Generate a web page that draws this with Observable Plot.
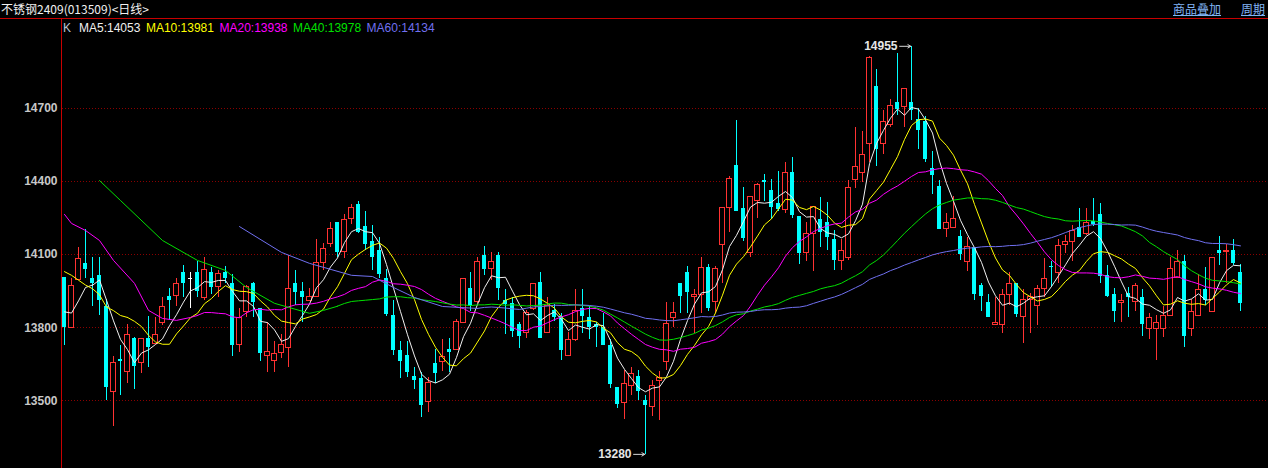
<!DOCTYPE html>
<html><head><meta charset="utf-8">
<script src="https://cdn.jsdelivr.net/npm/d3@7"></script>
<script src="https://cdn.jsdelivr.net/npm/@observablehq/plot@0.6"></script>
<style>
html,body{margin:0;padding:0;background:#000;width:1268px;height:468px;overflow:hidden;}
#wrap{position:relative;width:1268px;height:468px;background:#000;}
#chart{position:absolute;left:0;top:0;}
.hline{position:absolute;left:0;top:18px;width:1268px;height:1px;background:#c80000;}
.vline{position:absolute;left:61px;top:18px;width:1px;height:450px;background:#c80000;}
#title{position:absolute;left:1px;top:1px;font-size:12px;font-family:"Noto Sans CJK SC",sans-serif;color:#f0f0f0;line-height:16px;white-space:nowrap;}
.link{position:absolute;top:1px;font-size:12px;font-family:"Noto Sans CJK SC",sans-serif;color:#80b4f4;line-height:16px;text-decoration:underline;white-space:nowrap;}
#legend{position:absolute;left:63px;top:21px;font-size:12px;font-family:"Liberation Sans",Arial,sans-serif;line-height:14px;white-space:nowrap;}
#legend span{margin-right:5.5px;}
</style>
</head><body>
<div id="wrap">
  <div id="chart"></div>
  <div class="hline"></div>
  <div class="vline"></div>
  <div id="title"></div>
  <div id="links"></div>
  <div id="legend"></div>
</div>
<script>
const titleText = "不锈钢2409(013509)<日线>";
const linkLabels = ["商品叠加", "周期"];
const yTicks = [13500, 13800, 14100, 14400, 14700];
const maNames = ["MA5", "MA10", "MA20", "MA40", "MA60"];
const maLegendValues = [14053, 13981, 13938, 13978, 14134];
const maColors = ["#f0f0f0", "#ffff00", "#ff00ff", "#00e000", "#7070f0"];
const maPeriods = [5, 10, 20, 40, 60];

const open = [14005,13800,13995,14065,14000,14015,13885,13535,13670,13620,13755,13655,13755,13735,13820,13930,13930,14025,14000,14025,
13920,14025,13965,14025,13980,13730,13865,13980,13880,13685,13665,13695,13715,13980,13950,13910,13925,14065,14145,14230,
14110,14245,14305,14215,14155,14115,14000,13850,13705,13685,13600,13590,13495,13655,13660,13710,13710,13820,13960,13905,
14095,14040,14095,13910,13900,13815,13780,13875,13985,13780,13870,13845,13685,13750,13880,13840,13815,13800,13725,13555,
13490,13560,13600,13500,13475,13580,13660,13840,13980,14025,13925,13935,14045,13905,14140,14290,14465,14290,14105,14320,
14405,14365,14310,14285,14435,14255,14105,14185,14245,14230,14160,14075,14085,14405,14435,14555,14790,14555,14630,14725,
14705,14725,14655,14645,14455,14380,14205,14210,14175,14070,14130,13975,13905,13810,13810,13935,13980,13845,13915,13890,
13960,14050,14025,14140,14150,14210,14185,14235,14265,14015,13935,13900,13940,13905,13925,13795,13795,13795,13850,14005,
14070,13795,13850,13955,13865,14115,14110,14115,14025];
const high = [14005,14000,14130,14205,14090,14090,13915,13680,13725,13815,13760,13755,13845,13840,13925,13960,14000,14055,14025,14070,
14090,14045,14035,14050,14020,13880,13975,13985,13880,13820,13745,13770,14095,14035,13985,13960,14160,14145,14230,14230,
14265,14305,14320,14275,14220,14170,14040,13910,13745,13745,13635,13615,13595,13710,13750,13755,13835,14000,14025,14090,
14135,14110,14110,13955,13925,13820,13870,13980,14025,13925,13895,13860,13780,13955,13955,13885,13820,13860,13750,13555,
13625,13635,13625,13520,13585,13620,13905,13905,13980,14050,13955,14090,14060,14050,14295,14420,14650,14375,14335,14390,
14430,14410,14440,14480,14500,14255,14230,14295,14335,14315,14200,14160,14405,14620,14605,14915,14860,14690,14735,14925,
14780,14955,14700,14665,14525,14405,14270,14340,14200,14170,14130,13980,13935,13925,13955,14025,13980,13955,13940,13975,
14085,14070,14160,14180,14220,14290,14290,14330,14310,14055,13960,13935,13965,13980,13955,13860,13850,13885,14090,14115,
14095,13915,14020,14045,14085,14175,14140,14160,14060];
const low = [13725,13800,13995,14000,13885,13850,13500,13395,13520,13570,13545,13610,13635,13735,13810,13830,13885,13925,13880,13925,
13910,13935,13925,13980,13680,13700,13840,13840,13660,13615,13615,13675,13635,13890,13820,13910,13925,14035,14130,14090,
14085,14225,14185,14115,14035,14000,13845,13685,13590,13595,13545,13430,13450,13570,13620,13615,13710,13820,13865,13900,
14015,13995,13910,13770,13760,13715,13755,13870,13755,13775,13825,13665,13680,13745,13775,13750,13720,13725,13550,13470,
13425,13520,13500,13280,13435,13420,13625,13800,13860,13860,13775,13860,13865,13860,13980,14190,14275,14155,14090,14250,
14320,14245,14275,14270,14250,14060,14070,14030,14130,14115,14035,14035,14075,14370,14395,14480,14460,14510,14620,14670,
14620,14650,14530,14480,14345,14205,14170,14210,14075,14030,13910,13865,13840,13810,13775,13890,13840,13735,13775,13810,
13925,13965,13980,14105,14070,14170,14180,14215,13980,13925,13820,13820,13840,13865,13765,13750,13665,13760,13850,14000,
13720,13765,13850,13890,13865,14055,13980,14055,13865];
const close = [13800,13970,14080,14040,13980,13910,13555,13655,13660,13770,13640,13755,13720,13770,13885,13910,13980,13980,14000,13950,
14035,13965,14020,14000,13725,13840,13965,13905,13695,13700,13690,13730,13960,13945,13925,13925,14065,14125,14205,14110,
14240,14290,14190,14140,14090,14020,13855,13705,13660,13615,13585,13480,13575,13610,13680,13700,13825,14000,13885,14070,
14040,14070,13960,13895,13785,13765,13860,13980,13755,13890,13840,13705,13750,13870,13845,13800,13800,13725,13565,13485,
13570,13610,13540,13480,13560,13595,13815,13860,13930,13945,13935,14045,13880,14040,14290,14410,14275,14165,14335,14385,
14395,14295,14285,14435,14260,14105,14185,14295,14190,14170,14075,14115,14375,14460,14510,14905,14530,14645,14710,14695,
14780,14690,14610,14490,14425,14205,14230,14245,14100,14130,13935,13930,13840,13820,13935,13980,13855,13915,13925,13960,
14000,14045,14135,14150,14195,14170,14230,14225,14010,13930,13865,13910,13925,13970,13815,13840,13820,13850,14040,14070,
13765,13865,13955,13910,14085,14105,14115,14065,13900];

// Lead-in parts of the moving averages (history before the first visible bar)
const ma5HeadIdx = [0, 1, 2, 3, 4];
const ma5HeadVal = [13865, 13860, 13910, 13965, 13975];
const ma10HeadIdx = [0, 1, 2, 3, 4, 5, 6, 7, 8, 9];
const ma10HeadVal = [14030, 14015, 13995, 13975, 13960, 13935, 13885, 13870, 13850, 13842];
const ma20HeadIdx = [0, 1, 3, 5, 7, 10, 12, 14, 16, 18, 19];
const ma20HeadVal = [14265, 14228, 14199, 14158, 14076, 13982, 13871, 13838, 13830, 13842, 13850];
const ma40HeadIdx = [5, 8, 14, 19, 23, 26, 30, 35, 37, 39];
const ma40HeadVal = [14404, 14322, 14158, 14076, 14035, 13965, 13900, 13859, 13871, 13888];
const ma60HeadIdx = [25, 31, 35, 41, 44, 47, 50, 54, 59];
const ma60HeadVal = [14215, 14109, 14064, 14015, 14010, 13965, 13924, 13887, 13879];

const heads = [[ma5HeadIdx, ma5HeadVal],[ma10HeadIdx, ma10HeadVal],[ma20HeadIdx, ma20HeadVal],[ma40HeadIdx, ma40HeadVal],[ma60HeadIdx, ma60HeadVal]];

const candles = open.map((o, i) => ({i, open: o, high: high[i], low: low[i], close: close[i]}));
const up = candles.filter(d => d.close > d.open);
const down = candles.filter(d => d.close < d.open);
const flat = candles.filter(d => d.close === d.open);

const RED = "#ff3232", CYAN = "#00ffff";
const hw = 0.357, hwUp = 0.31;
const crisp = {shapeRendering: "crispEdges"};

const hiBar = candles[d3.maxIndex(high)];
const loBar = candles[d3.minIndex(low)];

const marks = [
  Plot.ruleY(yTicks, {stroke: "#8a0000", strokeDasharray: "1,2", ...crisp}),
  Plot.text(yTicks, {y: d => d, text: d => String(d), frameAnchor: "left", textAnchor: "end", dx: -5, fill: "#c8c8c8", fontWeight: "bold", fontSize: 12}),
  // falling bars
  Plot.ruleX(down, {x: "i", y1: "low", y2: "high", stroke: CYAN, ...crisp}),
  Plot.rect(down, {x1: d => d.i - hw, x2: d => d.i + hw, y1: "open", y2: "close", fill: CYAN, ...crisp}),
  // rising bars (hollow)
  Plot.ruleX(up, {x: "i", y1: "close", y2: "high", stroke: RED, ...crisp}),
  Plot.ruleX(up, {x: "i", y1: "low", y2: "open", stroke: RED, ...crisp}),
  Plot.rect(up, {x1: d => d.i - hwUp, x2: d => d.i + hwUp, y1: "open", y2: "close", fill: "#000", stroke: RED, strokeWidth: 1, ...crisp}),
  // unchanged bars
  Plot.ruleX(flat, {x: "i", y1: "low", y2: "high", stroke: "#ffffff", ...crisp}),
  Plot.ruleY(flat, {y: "close", x1: d => d.i - hw, x2: d => d.i + hw, stroke: "#ffffff", ...crisp})
];

maPeriods.forEach((k, m) => {
  const [hx, hv] = heads[m];
  marks.push(Plot.line(hx.map((x, j) => ({x, y: hv[j]})), {x: "x", y: "y", stroke: maColors[m], strokeWidth: 1}));
  marks.push(Plot.line(candles, Plot.windowY({k, anchor: "end", strict: true, reduce: "mean"}, {x: "i", y: "close", stroke: maColors[m], strokeWidth: 1})));
});

marks.push(
  Plot.text([hiBar], {x: "i", y: "high", text: d => String(d.high), textAnchor: "end", dx: -14, fill: "#e6e6e6", fontWeight: "bold", fontSize: 12}),
  Plot.arrow([hiBar], {x1: d => d.i - 1.7, x2: d => d.i - 0.1, y1: "high", y2: "high", stroke: "#d8d8d8", strokeWidth: 1, headLength: 5}),
  Plot.text([loBar], {x: "i", y: "low", text: d => String(d.low), textAnchor: "end", dx: -14, fill: "#e6e6e6", fontWeight: "bold", fontSize: 12}),
  Plot.arrow([loBar], {x1: d => d.i - 1.7, x2: d => d.i - 0.1, y1: "low", y2: "low", stroke: "#d8d8d8", strokeWidth: 1, headLength: 5})
);

const chart = Plot.plot({
  width: 1268, height: 468,
  marginLeft: 62, marginRight: 0, marginTop: 0, marginBottom: 0,
  x: {type: "linear", domain: [-2/7, 172], axis: null},
  y: {domain: [13222, 15143], axis: null},
  style: {background: "transparent", color: "#c8c8c8", fontFamily: "'Liberation Sans', Arial, sans-serif", fontSize: "12px", overflow: "visible"},
  marks
});
document.getElementById("chart").appendChild(chart);

document.getElementById("title").textContent = titleText;
const links = document.getElementById("links");
const linkLeft = [1173, 1241];
linkLabels.forEach((t, j) => {
  const s = document.createElement("span");
  s.className = "link"; s.textContent = t; s.style.left = linkLeft[j] + "px";
  links.appendChild(s);
});
const legend = document.getElementById("legend");
const k = document.createElement("span");
k.textContent = "K"; k.style.color = "#b8c4d0"; k.style.marginRight = "8px";
legend.appendChild(k);
maNames.forEach((n, j) => {
  const s = document.createElement("span");
  s.textContent = n + ":" + maLegendValues[j];
  s.style.color = maColors[j];
  legend.appendChild(s);
});
</script>
</body></html>
